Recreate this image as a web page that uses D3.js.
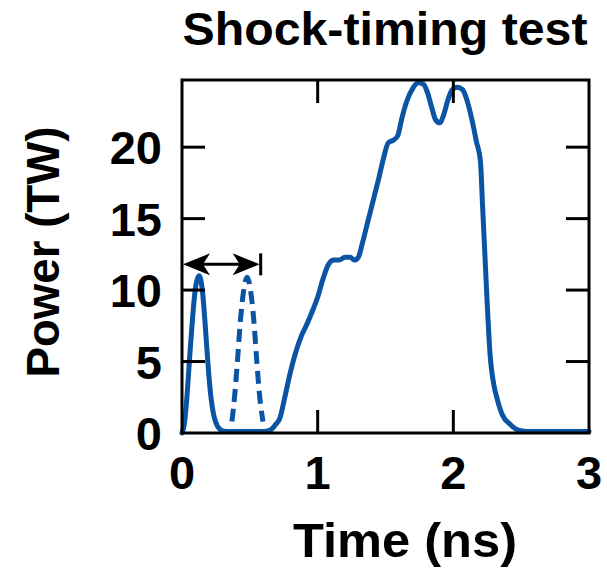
<!DOCTYPE html>
<html>
<head>
<meta charset="utf-8">
<script src="https://cdn.jsdelivr.net/npm/d3@7"></script>
<style>
  html, body { margin: 0; padding: 0; background: #fff; }
  text { font-family: "Liberation Sans", Arial, Helvetica, sans-serif; font-weight: bold; fill: #000; }
</style>
</head>
<body>
<svg id="chart" width="607" height="572"></svg>
<script>
// ---- data ----
const timeSolid = [0, 0.02, 0.04, 0.06, 0.08, 0.10, 0.125, 0.15, 0.17, 0.19, 0.21, 0.235, 0.26, 0.30, 0.35,
  0.60, 0.65, 0.69, 0.72, 0.76, 0.80, 0.84, 0.88, 0.92, 0.96, 1.00, 1.04, 1.08, 1.12, 1.16, 1.20, 1.24, 1.27,
  1.30, 1.33, 1.37, 1.41, 1.45, 1.49, 1.52, 1.56, 1.59, 1.62, 1.66, 1.70, 1.74, 1.78, 1.81, 1.84, 1.87, 1.90,
  1.93, 1.96, 1.99, 2.03, 2.07, 2.10, 2.14, 2.17, 2.20, 2.215, 2.23, 2.25, 2.27, 2.30, 2.32, 2.36, 2.42, 2.48,
  2.55, 3.0];
const powerSolid = [0, 0.8, 3.0, 5.8, 8.3, 10.2, 11.0, 10.0, 7.7, 5.0, 2.8, 1.2, 0.5, 0.15, 0.1,
  0.1, 0.2, 0.6, 1.0, 2.6, 4.3, 5.7, 6.8, 7.6, 8.5, 9.5, 10.8, 11.8, 12.1, 12.1, 12.3, 12.3, 12.1,
  12.3, 13.3, 14.8, 16.3, 17.8, 19.4, 20.3, 20.5, 20.8, 22.0, 23.3, 24.1, 24.5, 24.4, 23.8, 22.8, 21.9, 21.7,
  22.3, 23.3, 24.0, 24.2, 24.0, 23.3, 21.8, 20.4, 19.0, 16.0, 13.0, 9.0, 5.6, 3.3, 2.5, 1.3, 0.6, 0.2,
  0.1, 0.1];
const timeDashed = [0.368, 0.39, 0.41, 0.43, 0.455, 0.48, 0.505, 0.53, 0.55, 0.57, 0.597];
const powerDashed = [0.8, 2.8, 5.2, 7.8, 10.0, 10.9, 10.0, 7.8, 5.2, 2.8, 0.8];
const xTicks = [0, 1, 2, 3];
const yTicks = [0, 5, 10, 15, 20];
const arrowSpan = [0, 0.58];   // ns
const arrowLevel = [11.8];     // TW
const titleText = "Shock-timing test";
const xLabel = "Time (ns)";
const yLabel = "Power (TW)";

// ---- layout ----
const svg = d3.select("#chart");
const pLeft = 182, pRight = 589, pTop = 80, pBottom = 433;
const x = d3.scaleLinear().domain([0, 3]).range([pLeft, pRight]);
const y = d3.scaleLinear().domain([0, 24.7]).range([pBottom, pTop]);
const blue = "#0a54a3";
const tickLen = 23;

// curves
const line = d3.line().x(d => x(d[0])).y(d => y(d[1])).curve(d3.curveMonotoneX);
svg.append("path")
  .attr("d", line(timeSolid.map((t, i) => [t, powerSolid[i]])))
  .attr("fill", "none").attr("stroke", blue).attr("stroke-width", 5)
  .attr("stroke-linejoin", "round").attr("stroke-linecap", "round");
svg.append("path")
  .attr("d", line(timeDashed.map((t, i) => [t, powerDashed[i]])))
  .attr("fill", "none").attr("stroke", blue).attr("stroke-width", 5)
  .attr("stroke-dasharray", "13,7");

// frame + mirrored inside ticks
const axes = svg.append("g").attr("stroke", "#000").attr("stroke-width", 3).attr("fill", "none");
axes.append("rect").attr("x", pLeft).attr("y", pTop).attr("width", pRight - pLeft).attr("height", pBottom - pTop);
xTicks.filter(v => v > 0 && v < 3).forEach(v => {
  axes.append("line").attr("x1", x(v)).attr("x2", x(v)).attr("y1", pBottom).attr("y2", pBottom - tickLen);
  axes.append("line").attr("x1", x(v)).attr("x2", x(v)).attr("y1", pTop).attr("y2", pTop + tickLen);
});
yTicks.filter(v => v > 0).forEach(v => {
  axes.append("line").attr("x1", pLeft).attr("x2", pLeft + tickLen).attr("y1", y(v)).attr("y2", y(v));
  axes.append("line").attr("x1", pRight).attr("x2", pRight - tickLen).attr("y1", y(v)).attr("y2", y(v));
});

// tick labels
svg.append("g").selectAll("text").data(xTicks).join("text")
  .attr("x", d => x(d)).attr("y", 489).attr("text-anchor", "middle")
  .attr("font-size", 47).text(d => d);
svg.append("g").selectAll("text").data(yTicks).join("text")
  .attr("x", 162).attr("y", d => y(d) + 17).attr("text-anchor", "end")
  .attr("font-size", 47).text(d => d);

// titles
svg.append("text").attr("x", 385).attr("y", 45).attr("text-anchor", "middle")
  .attr("font-size", 47).attr("textLength", 405).attr("lengthAdjust", "spacingAndGlyphs").text(titleText);
svg.append("text").attr("x", 405).attr("y", 557).attr("text-anchor", "middle")
  .attr("font-size", 48).attr("textLength", 224).attr("lengthAdjust", "spacingAndGlyphs").text(xLabel);
svg.append("text").attr("transform", "translate(59,252) rotate(-90)").attr("text-anchor", "middle")
  .attr("font-size", 47).attr("textLength", 251).attr("lengthAdjust", "spacingAndGlyphs").text(yLabel);

// timing arrow
const ay = y(arrowLevel[0]);
const ax1 = x(arrowSpan[0]), ax2 = x(arrowSpan[1]);
const ag = svg.append("g");
ag.append("line").attr("x1", ax1 + 10).attr("x2", ax2 - 10).attr("y1", ay).attr("y2", ay)
  .attr("stroke", "#000").attr("stroke-width", 3);
ag.append("line").attr("x1", ax2).attr("x2", ax2).attr("y1", ay - 11).attr("y2", ay + 11)
  .attr("stroke", "#000").attr("stroke-width", 3);
const head = (tipX, dir) => {
  const L = 27, H = 11, n = 7;
  return `M${tipX},${ay} L${tipX + dir * L},${ay - H} L${tipX + dir * (L - n)},${ay} L${tipX + dir * L},${ay + H} Z`;
};
ag.append("path").attr("d", head(ax1 + 1, 1)).attr("fill", "#000");
ag.append("path").attr("d", head(ax2 - 1, -1)).attr("fill", "#000");
</script>
</body>
</html>
